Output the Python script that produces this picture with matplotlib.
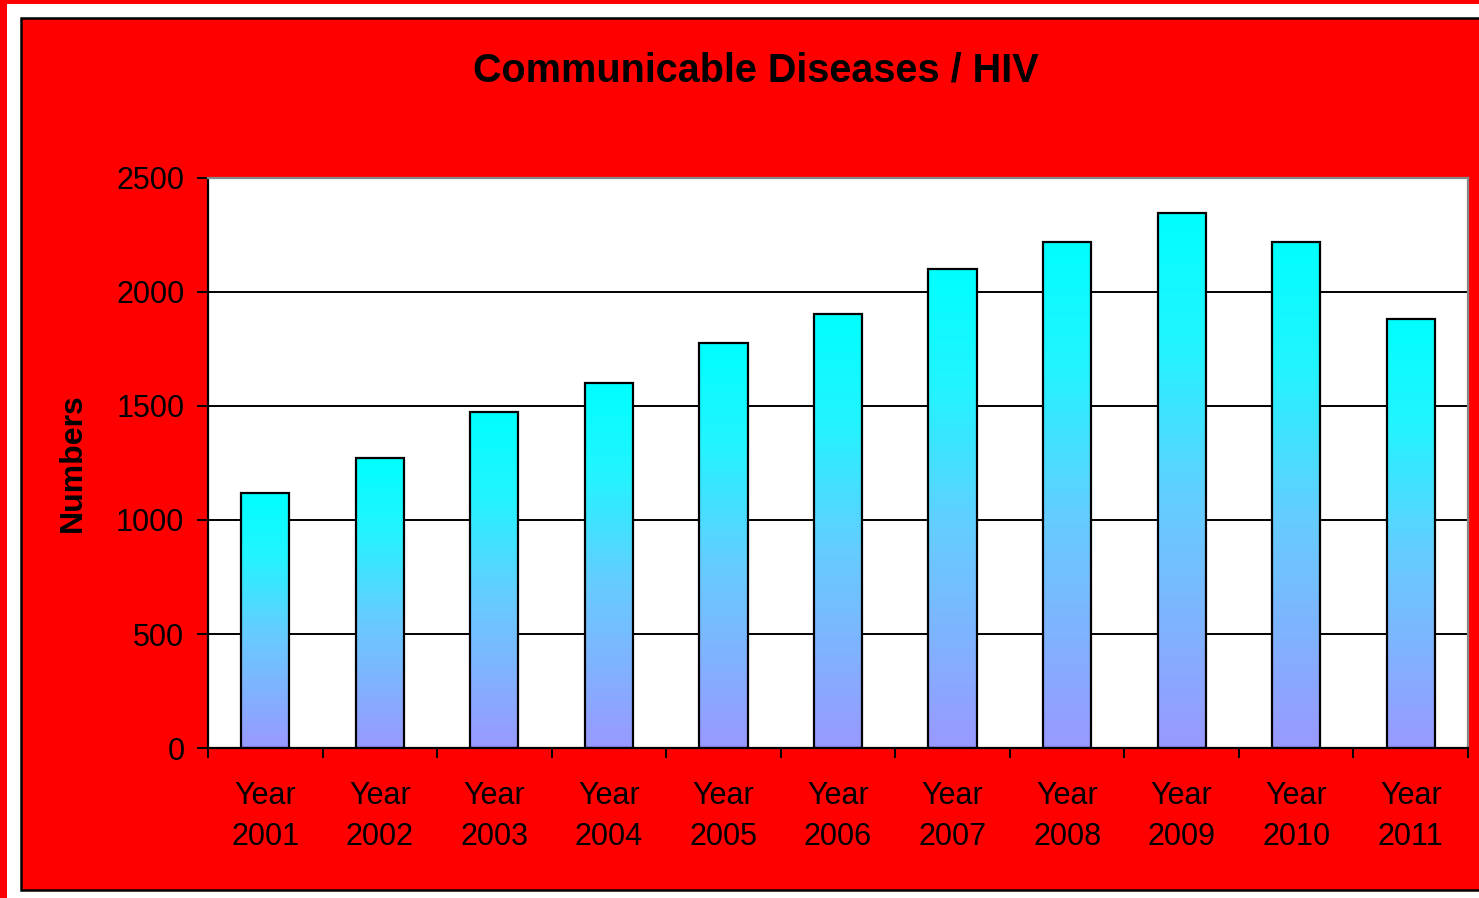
import numpy as np
import matplotlib
matplotlib.use("Agg")
import matplotlib.pyplot as plt
from matplotlib.patches import Rectangle
from matplotlib.colors import LinearSegmentedColormap

years = ["2001", "2002", "2003", "2004", "2005", "2006", "2007", "2008", "2009", "2010", "2011"]
values = [1120, 1272, 1472, 1600, 1775, 1904, 2100, 2220, 2348, 2220, 1882]
yticks = [0, 500, 1000, 1500, 2000, 2500]
title = "Communicable Diseases / HIV"
ylabel = "Numbers"

plt.rcParams['font.family'] = ['Liberation Sans', 'DejaVu Sans']

W, H = 1479, 898
fig = plt.figure(figsize=(W / 100, H / 100), dpi=100, facecolor="white")

# outer red strips
fig.patches.append(Rectangle((0, 1 - 4 / H), 1, 4 / H, transform=fig.transFigure,
                             facecolor="#ff0000", edgecolor="none", zorder=0))
fig.patches.append(Rectangle((0, 0), 7 / W, 1, transform=fig.transFigure,
                             facecolor="#ff0000", edgecolor="none", zorder=0))
# chart area
fig.patches.append(Rectangle((21 / W, 1 - 890 / H), 1.0, (890 - 18) / H, transform=fig.transFigure,
                             facecolor="#ff0000", edgecolor="black", linewidth=1.8, zorder=1))

ax = fig.add_axes([208 / W, 1 - 748 / H, 1260 / W, 570 / H])
ax.set_facecolor("white")
ax.set_zorder(2)

x = np.arange(len(years))
bw = 0.42
bars = ax.bar(x, values, width=bw, facecolor="none", edgecolor="black", linewidth=1.6, zorder=3)

cmap = LinearSegmentedColormap.from_list("g", [(0.0, "#9999ff"), (0.45, "#66ccff"), (0.75, "#22f4ff"), (1.0, "#00ffff")])
grad = np.linspace(0, 1, 256).reshape(-1, 1)
for b in bars:
    x0 = b.get_x()
    h = b.get_height()
    im = ax.imshow(grad, extent=[x0, x0 + b.get_width(), 0, h], origin="lower",
                   cmap=cmap, aspect="auto", zorder=2.5, interpolation="bilinear")
    im.set_clip_path(b)

ax.set_xlim(-0.5, len(years) - 0.5)
ax.set_ylim(0, 2500)
ax.set_yticks(yticks)
ax.set_yticklabels([str(v) for v in yticks])
ax.yaxis.grid(True, color="black", linewidth=1.4, zorder=1)
ax.set_axisbelow(True)

ax.set_xticks(x)
ax.set_xticklabels([f"Year\n{y}" for y in years], linespacing=1.45)
ax.set_xticks(np.arange(-0.5, len(years)), minor=True)
ax.tick_params(axis="x", which="major", length=0, pad=24, labelsize=22)
ax.tick_params(axis="x", which="minor", length=7, width=1.4, direction="out", color="black")
ax.tick_params(axis="y", length=8, width=1.4, direction="out", pad=9, labelsize=22, color="black")

for s in ["left", "bottom"]:
    ax.spines[s].set_color("black")
    ax.spines[s].set_linewidth(1.6)
for s in ["top", "right"]:
    ax.spines[s].set_color("#888888")
    ax.spines[s].set_linewidth(1.6)

ax.set_ylabel(ylabel, fontsize=23, fontweight="bold", labelpad=20)
fig.text(756 / W, 1 - 70 / H, title, fontsize=28.5, fontweight="bold", ha="center", va="center")

fig.savefig("out.png", dpi=100, facecolor=fig.get_facecolor())
